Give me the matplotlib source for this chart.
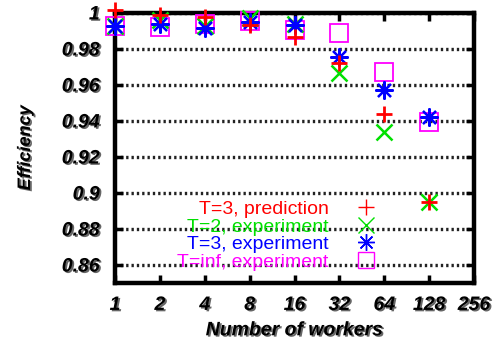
import matplotlib
matplotlib.use("Agg")
import matplotlib.pyplot as plt
import matplotlib.patheffects as pe

# Scaling results: number of workers vs. parallel efficiency
workers = [1, 2, 4, 8, 16, 32, 64, 128]
pred_t3 = [1.0015, 0.999, 0.998, 0.9933, 0.9867, 0.972, 0.944, 0.895]
exp_t2 = [0.993, 0.996, 0.993, 0.997, 0.994, 0.9667, 0.934, 0.895]
exp_t3 = [0.993, 0.994, 0.9917, 0.995, 0.9933, 0.9756, 0.957, 0.942]
exp_tinf = [0.993, 0.992, 0.994, 0.9956, 0.9906, 0.989, 0.967, 0.9394]

x_ticks = [1, 2, 4, 8, 16, 32, 64, 128, 256]
y_ticks = [0.86, 0.88, 0.9, 0.92, 0.94, 0.96, 0.98, 1.0]
y_tick_labels = ["0.86", "0.88", "0.9", "0.92", "0.94", "0.96", "0.98", "1"]

labels = ["T=3, prediction", "T=2, experiment", "T=3, experiment", "T=inf, experiment"]
colors = ["#ff0000", "#00e000", "#0000ff", "#ff00ff"]

shadow = [pe.withSimplePatchShadow(offset=(1.3, -1.0), shadow_rgbFace="black", alpha=0.6)]
font = "Liberation Sans"

fig = plt.figure(figsize=(4.98, 3.49), dpi=100)
ax = fig.add_axes([0.231, 0.189, 0.721, 0.774])

ax.plot(workers, pred_t3, linestyle="none", marker="+", ms=12, mew=2.0,
        color=colors[0], label=labels[0], zorder=5, clip_on=False)
ax.plot(workers, exp_t2, linestyle="none", marker="x", ms=11, mew=1.8,
        color=colors[1], label=labels[1], zorder=4, clip_on=False)
ax.plot(workers, exp_t3, linestyle="none", marker=(8, 2, 0), ms=13, mew=1.6,
        color=colors[2], label=labels[2], zorder=4, clip_on=False)
ax.plot(workers, exp_tinf, linestyle="none", marker="s", ms=12.5, mew=1.3,
        color=colors[3], markerfacecolor="none", label=labels[3], zorder=3,
        clip_on=False)

ax.set_xscale("log", base=2)
ax.set_xlim(1, 256)
ax.set_ylim(0.85, 1.0)
ax.set_xticks(x_ticks)
ax.set_xticklabels([str(v) for v in x_ticks])
ax.set_yticks(y_ticks)
ax.set_yticklabels(y_tick_labels)
ax.minorticks_off()

ax.yaxis.grid(True, color="#222222", linestyle=(0, (0.7, 0.9)), linewidth=2.4)
ax.set_axisbelow(True)

for s in ax.spines.values():
    s.set_linewidth(3.2)

ax.tick_params(axis="both", direction="in", length=6, width=2.5,
               top=True, right=True)
ax.tick_params(axis="y", pad=11)
ax.tick_params(axis="x", pad=10)
for t in ax.get_xticklabels() + ax.get_yticklabels():
    t.set_fontfamily(font)
    t.set_fontweight("bold")
    t.set_fontstyle("italic")
    t.set_fontsize(14)
    t.set_path_effects(shadow)

ax.set_xlabel("Number of workers", fontfamily=font, fontweight="bold",
              fontstyle="italic", fontsize=14, labelpad=6, path_effects=shadow)
ax.set_ylabel("Efficiency", fontfamily=font, fontweight="bold",
              fontstyle="italic", fontsize=13, labelpad=20, path_effects=shadow)

leg = ax.legend(loc="lower right", bbox_to_anchor=(0.735, 0.045), frameon=False,
                markerfirst=False, numpoints=1, borderpad=0, borderaxespad=0,
                labelspacing=0.0, handlelength=1.3, handletextpad=1.3,
                prop={"family": font, "size": 14})
for txt, c in zip(leg.get_texts(), colors):
    txt.set_color(c)
for h in leg.legend_handles:
    h.set_markeredgewidth(1.0)
    h.set_markersize(12)

fig.savefig("out.png", dpi=100)
